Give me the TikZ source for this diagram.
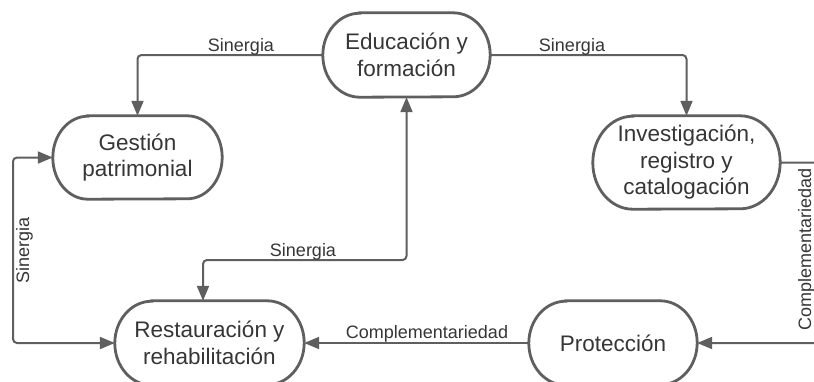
\documentclass[tikz,border=0pt]{standalone}
\usepackage{fontspec}
\setmainfont{Liberation Sans}
\usetikzlibrary{arrows.meta}
\definecolor{linec}{HTML}{5F5F5F}
\definecolor{txtc}{HTML}{363636}
\newcommand\stadiumoutline[3]{%
  \draw[line width=2.8pt, draw=linec] ([xshift=#2]#1.north west) -- ([xshift=-#2]#1.north east)
    arc[start angle=90, end angle=-90, x radius=#2, y radius=#3]
    -- ([xshift=#2]#1.south west)
    arc[start angle=270, end angle=90, x radius=#2, y radius=#3] -- cycle;}
\begin{document}
\begin{tikzpicture}[x=1pt,y=-1pt,
  box/.style={rectangle, inner sep=0pt, align=center, font=\fontsize{22.5}{26.5}\selectfont, text=txtc},
  lbl/.style={font=\fontsize{18}{21}\selectfont, text=txtc, inner sep=0pt},
  conn/.style={draw=linec, line width=2pt, rounded corners=4pt},
  >={Triangle[length=15pt,width=12pt]}]
\clip (0,0) rectangle (814,381);
\fill[white] (0,0) rectangle (814,381);

\node[box, minimum width=167pt, minimum height=84pt] (edu) at (406.5,55) {Educación y\\formación};
\node[box, minimum width=169pt, minimum height=83pt] (ges) at (137.5,157.5) {Gestión\\patrimonial};
\node[box, minimum width=187pt, minimum height=93pt] (inv) at (686.5,162.5) {Investigación,\\registro y\\catalogación};
\node[box, minimum width=189pt, minimum height=84pt] (res) at (209.5,343) {Restauración y\\rehabilitación};
\node[box, minimum width=168pt, minimum height=84pt] (pro) at (613,343) {Protección};

\stadiumoutline{edu}{37pt}{42pt}
\stadiumoutline{ges}{35pt}{41.5pt}
\stadiumoutline{inv}{40pt}{46.5pt}
\stadiumoutline{res}{37pt}{42pt}
\stadiumoutline{pro}{37pt}{42pt}

\coordinate (rr) at (820,162.5);
\coordinate (m1) at (304,260);
\coordinate (lx) at (13,250);

\draw[conn, ->] (edu.west) -| (ges.north);
\draw[conn, ->] (edu.east) -| (inv.north);
\draw[conn, ->] (inv.east) -- (rr) |- (pro.east);
\draw[conn, ->] (pro.west) -- (res.east);
\draw[conn, <->] ([xshift=-6.5pt]res.north) |- (m1) -| (edu.south);
\draw[conn, <->] (ges.west) -| (lx) |- (res.west);

\node[lbl, anchor=base] (s1) at (241,51) {Sinergia};
\node[lbl, anchor=base] (s2) at (572,51) {Sinergia};
\node[lbl, anchor=base] (s3) at (303,256) {Sinergia};
\node[lbl, anchor=base] (c1) at (427,338) {Complementariedad};
\node[lbl, anchor=base, rotate=90] (s4) at (29,250) {Sinergia};
\node[lbl, anchor=base, rotate=90] (c2) at (811,249) {Complementariedad};
\end{tikzpicture}
\end{document}
